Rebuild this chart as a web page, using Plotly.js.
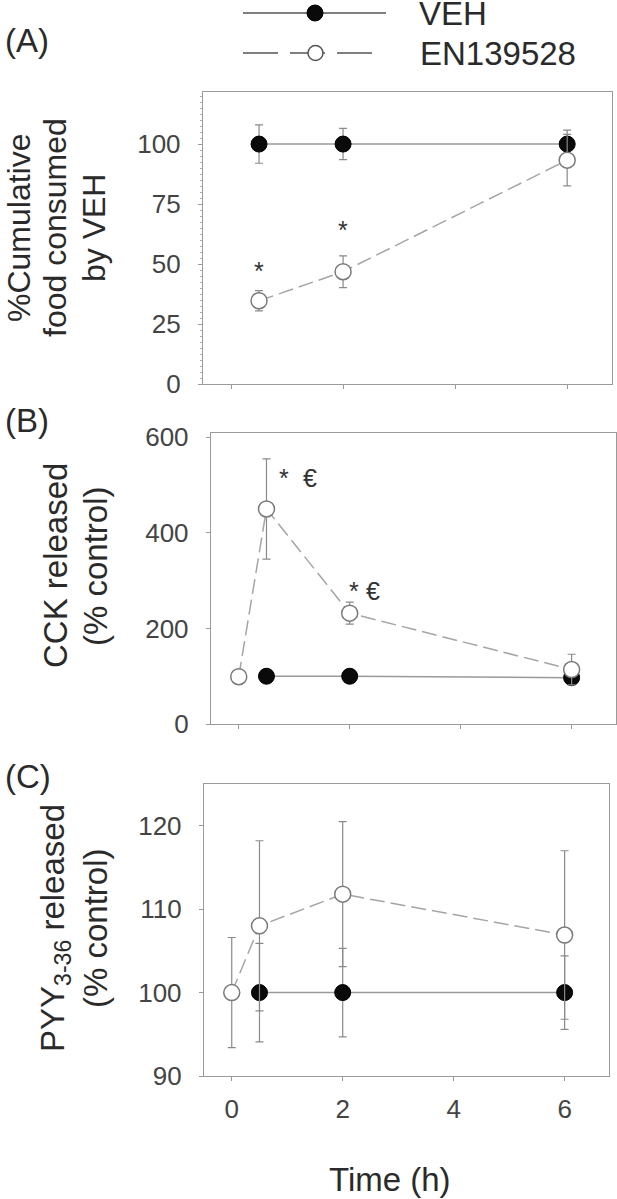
<!DOCTYPE html>
<html>
<head>
<meta charset="utf-8">
<script src="https://cdn.plot.ly/plotly-3.0.1.min.js"></script>
<style>
  html, body { margin: 0; padding: 0; background: #fff; }
  #chart { width: 617px; height: 1199px; }
</style>
</head>
<body>
<div id="chart"></div>
<script>
// ---- data ----
// (A) cumulative food intake, % of VEH
const timeA = [0.5, 2, 6];
const vehA = [100, 100, 100];
const vehAErr = [8, 6.5, 5.8];
const enA = [34.7, 46.8, 93.3];
const enAErr = [4.2, 6.6, 10.7];

// (B) CCK release, % control
const vehTimeB = [0.5, 2, 6];
const vehB = [100, 100, 97];
const enTimeB = [0, 0.5, 2, 6];
const enB = [99, 450, 232, 114];
const enBErr = [0, 105, 23, 32];

// (C) PYY3-36 release, % control
const vehTimeC = [0.5, 2, 6];
const vehC = [100, 100, 100];
const vehCErr = [5.9, 5.3, 4.4];
const enTimeC = [0, 0.5, 2, 6];
const enC = [100, 108, 111.8, 106.9];
const enCErr = [6.6, 10.2, 8.7, 10.1];

// significance marks
const sigA = { x: [0.5, 2], y: [47, 64], text: ['*', '*'] };
const sigB = { x: [0.82, 1.29, 2.08, 2.42], y: [515, 515, 279, 279], text: ['*', '€', '*', '€'] };

const xTicks = [0, 2, 4, 6];

// ---- helpers ----
const W = 617, H = 1199;
const FONT = 'Liberation Sans, Arial, sans-serif';
const GREY = '#9a9a9a';
const px = x => x / W;          // pixel -> paper (horizontal)
const py = y => 1 - y / H;      // pixel -> paper (vertical)

function vehTrace(x, y, err, xa, ya) {
    const t = {
        x: x, y: y, xaxis: xa, yaxis: ya,
        type: 'scatter', mode: 'lines+markers', name: 'VEH', showlegend: false,
        line: { color: GREY, width: 1.5 },
        marker: { size: 16, color: '#0a0a0a', line: { color: '#000', width: 1 } }
    };
    if (err) t.error_y = { type: 'data', array: err, visible: true, color: '#8a8a8a', thickness: 1.2, width: 4 };
    return t;
}

function enTrace(x, y, err, xa, ya) {
    return {
        x: x, y: y, xaxis: xa, yaxis: ya,
        type: 'scatter', mode: 'lines+markers', name: 'EN139528', showlegend: false,
        line: { color: '#a5a5a5', width: 1.5, dash: '15px,6px' },
        marker: { size: 16, color: '#fff', line: { color: '#7a7a7a', width: 1.5 } },
        error_y: { type: 'data', array: err, visible: true, color: '#8a8a8a', thickness: 1.2, width: 4 }
    };
}

function sigNotes(s, xa, ya) {
    return s.x.map((x, i) => ({
        x: x, y: s.y[i], xref: xa, yref: ya, text: s.text[i], showarrow: false,
        font: { family: FONT, size: 25, color: '#333' }
    }));
}

const data = [
    vehTrace(timeA, vehA, vehAErr, 'x', 'y'),
    enTrace(timeA, enA, enAErr, 'x', 'y'),
    vehTrace(vehTimeB, vehB, null, 'x2', 'y2'),
    enTrace(enTimeB, enB, enBErr, 'x2', 'y2'),
    vehTrace(vehTimeC, vehC, vehCErr, 'x3', 'y3'),
    enTrace(enTimeC, enC, enCErr, 'x3', 'y3')
];

const axisBase = {
    showline: true, mirror: true, linecolor: GREY, linewidth: 1.2,
    showgrid: false, zeroline: false,
    ticks: 'outside', ticklen: 4, tickcolor: GREY, tickwidth: 1,
    tickfont: { family: FONT, size: 26, color: '#444' }
};

function xAxis(domL, domR, anchor, labels) {
    return Object.assign({}, axisBase, {
        domain: [px(domL), px(domR)], anchor: anchor, range: [-0.5, 6.8],
        tickvals: xTicks, showticklabels: labels, ticklabelstandoff: 6
    });
}

function yAxis(top, bottom, anchor, range, dtick, extra) {
    return Object.assign({}, axisBase, {
        domain: [py(bottom), py(top)], anchor: anchor, range: range,
        tick0: range[0], dtick: dtick, ticklabelstandoff: 12
    }, extra || {});
}

const titleFont = { family: FONT, size: 33, color: '#2a2a2a' };

function label(text, x, y, opts) {
    return Object.assign({
        xref: 'paper', yref: 'paper', x: px(x), y: py(y), text: text,
        showarrow: false, font: titleFont, xanchor: 'center', yanchor: 'middle'
    }, opts || {});
}

// rotated y titles, one annotation per line so the line spacing matches
function yTitle(lines, xs, y, size) {
    return lines.map((t, i) => label(t, xs[i], y, {
        textangle: -90, font: Object.assign({}, titleFont, { size: size || 33 })
    }));
}

const annotations = [
    label('(A)', 3, 41, { xanchor: 'left' }),
    label('(B)', 3, 420, { xanchor: 'left' }),
    label('(C)', 3, 776, { xanchor: 'left' }),
    label('Time (h)', 390, 1179),
    label('VEH', 417, 13, { xanchor: 'left' }),
    label('EN139528', 418, 53, { xanchor: 'left' })
].concat(
    yTitle(['%Cumulative', 'food consumed', 'by VEH'], [19, 55, 94], 228, 32),
    yTitle(['CCK released', '(% control)'], [55, 95], 566),
    yTitle(['PYY<sub>3-36</sub> released', '(% control)'], [55, 95], 928),
    sigNotes(sigA, 'x', 'y'),
    sigNotes(sigB, 'x2', 'y2')
);

// hand-drawn legend samples (long line swatches)
const legendShapes = [
    { type: 'line', xref: 'paper', yref: 'paper', x0: px(243), x1: px(386), y0: py(13), y1: py(13),
      line: { color: '#555', width: 1.5 } },
    { type: 'circle', xref: 'paper', yref: 'paper', x0: px(307), x1: px(323), y0: py(5), y1: py(21),
      fillcolor: '#0a0a0a', line: { color: '#000', width: 1 } },
    { type: 'line', xref: 'paper', yref: 'paper', x0: px(243), x1: px(373), y0: py(53), y1: py(53),
      line: { color: '#555', width: 1.5, dash: '35px,12px' } },
    { type: 'circle', xref: 'paper', yref: 'paper', x0: px(308), x1: px(323), y0: py(45.5), y1: py(60.5),
      fillcolor: '#fff', line: { color: '#555', width: 1.5 } }
];

const layout = {
    width: W, height: H,
    margin: { l: 0, r: 0, t: 0, b: 0 },
    paper_bgcolor: '#fff', plot_bgcolor: '#fff',
    showlegend: false,
    xaxis: xAxis(203, 612, 'y', false),
    yaxis: yAxis(92, 384, 'x', [0, 121.7], 25, {
        minor: { ticks: 'outside', ticklen: 2, dtick: 2.5, tickcolor: '#b0b0b0', tickwidth: 1 }
    }),
    xaxis2: xAxis(211, 616, 'y2', false),
    yaxis2: yAxis(433, 724, 'x2', [0, 609], 200),
    xaxis3: xAxis(204, 609, 'y3', true),
    yaxis3: yAxis(784, 1076, 'x3', [90, 125], 10),
    annotations: annotations,
    shapes: legendShapes
};

Plotly.newPlot('chart', data, layout, { staticPlot: true });
</script>
</body>
</html>
